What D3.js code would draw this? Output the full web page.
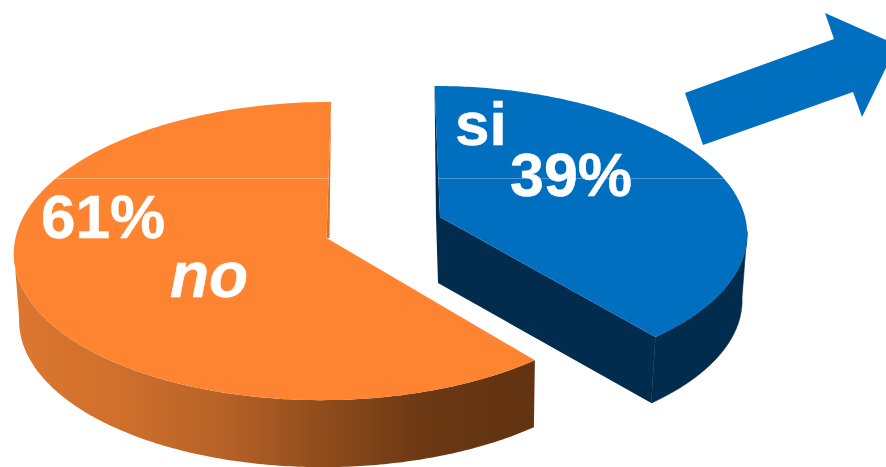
<!doctype html>
<html>
<head>
    <style>
        html, body { margin: 0; padding: 0; background: #fff; overflow: hidden; }
        text { font-family: "Liberation Sans", Arial, sans-serif; font-weight: bold; fill: #fff; stroke: #fff; stroke-width: 0.5; }
    </style>
    <script src="https://d3js.org/d3.v7.min.js"></script>
</head>
<body>
<svg width="886" height="467"></svg>
<script>
// data, clockwise from 12 o'clock
var categories = ["si", "no"];
var values = [39, 61];

// gradient along the orange rim
var rimStops = [[0, "#dc7730"], [0.2, "#cf702c"], [0.4, "#b86227"], [0.6, "#8f4c1c"], [0.78, "#6d3a14"], [0.95, "#633312"], [1, "#633312"]];

// one perspective disc per slice (exploded), fitted to the picture
var discs = {
    si: { x0: 440, y0: 217, a: 305, b: 144, k: 0.0988, shear: 6, dx: -2, dy: 66, sx: 0.99, top: "#006fc0", side: "#012c4d" },
    no: { x0: 326.5, y0: 238, a: 311, b: 148, k: 0.0872, shear: -5, dx: 1.5, dy: 67, sx: 0.988, top: "#fe8431", side: "url(#rim)" }
};

var labels = {
    si: { name: [455, 145, 62], pct: [510, 196, 61], italic: false },
    no: { name: [170, 297, 64], pct: [41, 238, 62], italic: true }
};

var arrowShape = [[685, 93], [834, 39], [825, 13], [897, 45], [862, 117], [853, 92], [703, 145]];
var glareY = 178;

var svg = d3.select("svg");
var defs = svg.append("defs");

var grad = defs.append("linearGradient")
    .attr("id", "rim")
    .attr("gradientUnits", "userSpaceOnUse")
    .attr("x1", 14).attr("x2", 532).attr("y1", 0).attr("y2", 0);
grad.selectAll("stop").data(rimStops).enter().append("stop")
    .attr("offset", function(d) { return d[0]; })
    .attr("stop-color", function(d) { return d[1]; });

// angle -> screen, r is 0..1 on the disc
function project(d, angle, r) {
    var u = Math.sin(angle) * r,
        v = -Math.cos(angle) * r,
        s = 1 / (1 - d.k * v);
    return [d.x0 + d.a * u * s + d.shear * v * s, d.y0 + d.b * v * s];
}
function lower(d, p) {
    return [d.x0 + d.dx + (p[0] - d.x0) * d.sx, p[1] + d.dy];
}
function arcPoints(d, a0, a1) {
    return d3.range(0, 181).map(function(i) {
        return project(d, a0 + (a1 - a0) * i / 180, 1);
    });
}

var line = d3.line();
var pie = d3.pie().sort(null);
var slices = pie(values);

[1, 0].forEach(function(idx) {
    var sl = slices[idx],
        name = categories[idx],
        d = discs[name],
        g = svg.append("g").attr("class", "slice-" + name),
        outer = arcPoints(d, sl.startAngle, sl.endAngle),
        apex = project(d, 0, 0),
        face = [apex].concat(outer);

    // only the part of the rim that faces the viewer, up to the side extreme of the disc
    var turn = Math.acos(-d.k),
        rimOuter = name === "si" ? arcPoints(d, turn, sl.endAngle) : arcPoints(d, sl.startAngle, 2 * Math.PI - turn),
        rim = rimOuter.concat(rimOuter.map(function(p) { return lower(d, p); }).reverse());
    var rimPath = g.append("path").attr("d", line(rim) + "Z").attr("fill", d.side);

    if (name === "si") {
        // stroke hides the seam between rim and wall
        rimPath.attr("stroke", d.side).attr("stroke-width", 0.6);
        // the cut wall facing the viewer and the thin back edge
        var tip = outer[outer.length - 1], back = outer[0];
        g.append("path")
            .attr("d", line([back, [apex[0] - 4, apex[1]], lower(d, apex), lower(d, tip), tip, apex]) + "Z")
            .attr("fill", d.side);
    } else {
        var top = outer[outer.length - 1];
        g.append("path")
            .attr("d", line([top, apex, [apex[0] + 3, apex[1]]]) + "Z")
            .attr("fill", "#d5752e");
    }

    g.append("path").attr("d", line(face) + "Z").attr("fill", d.top);

    // faint light line across the face
    defs.append("clipPath").attr("id", "clip-" + name)
        .append("path").attr("d", line(face) + "Z");
    g.append("line")
        .attr("x1", 0).attr("x2", 886)
        .attr("y1", glareY + 0.5).attr("y2", glareY + 0.5)
        .attr("stroke", "#fff").attr("stroke-opacity", 0.3)
        .attr("clip-path", "url(#clip-" + name + ")");

    var lab = labels[name];
    g.append("text")
        .attr("x", lab.name[0]).attr("y", lab.name[1])
        .attr("font-size", lab.name[2])
        .attr("font-style", lab.italic ? "italic" : "normal")
        .text(name);
    g.append("text")
        .attr("x", lab.pct[0]).attr("y", lab.pct[1])
        .attr("font-size", lab.pct[2])
        .text(values[idx] + "%");
});

svg.append("path")
    .attr("d", line(arrowShape) + "Z")
    .attr("fill", "#006fc0");
</script>
</body>
</html>
